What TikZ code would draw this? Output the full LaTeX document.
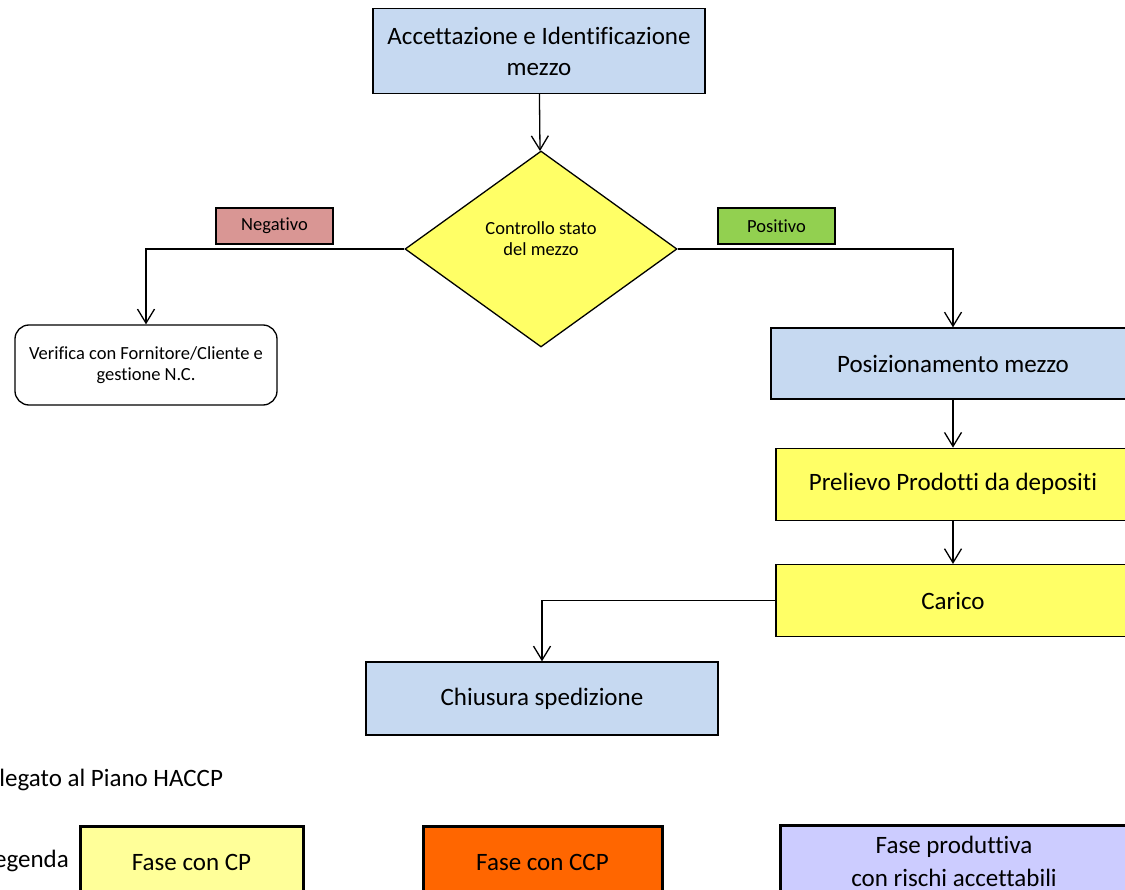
\documentclass[tikz,border=0pt]{standalone}
\usepackage{fontspec}
\setmainfont{Carlito}[Ligatures=NoCommon]
\usetikzlibrary{arrows.meta,positioning,shapes.geometric}
\definecolor{phaseblue}{HTML}{C6D9F1}
\definecolor{phaseyellow}{HTML}{FFFF66}
\definecolor{negred}{HTML}{D99694}
\definecolor{posgreen}{HTML}{92D050}
\definecolor{cpyellow}{HTML}{FFFF99}
\definecolor{ccporange}{HTML}{FF6600}
\definecolor{prodlilac}{HTML}{CCCCFF}
\tikzset{
  bigtext/.style={font=\fontsize{25}{31}\selectfont},
  phase/.style={draw, line width=1.3pt, align=center, fill=phaseblue,
                bigtext, inner sep=0pt, minimum height=71pt},
  decision/.style={draw, line width=1.3pt, diamond, fill=phaseyellow,
                   minimum width=272pt, minimum height=196pt, inner sep=0pt},
  outcome/.style={draw, line width=1.3pt, rounded corners=14pt, fill=white,
                  align=center, font=\fontsize{18.5}{21}\selectfont,
                  minimum width=262pt, minimum height=80pt, inner sep=0pt},
  tag/.style={draw, line width=1.5pt, font=\fontsize{18.5}{21}\selectfont,
              minimum width=117pt, minimum height=36pt, inner sep=0pt},
  legendbox/.style={draw, line width=3pt, align=center,
                    font=\fontsize{25}{33}\selectfont,
                    minimum height=72pt, inner sep=0pt},
  flowarrow/.style={-{Straight Barb[length=14pt,width=17pt]}, line width=1.3pt}
}
\begin{document}
\begin{tikzpicture}[x=1pt,y=-1pt]
  \useasboundingbox (0,0) rectangle (1125,890);
  \node[phase, minimum width=332pt, minimum height=85pt] (acc) at (539,51)
    {Accettazione e Identificazione\\mezzo};
  \node[decision, label={[font=\fontsize{18.5}{21}\selectfont, align=center,
        yshift=10pt]center:{Controllo stato\\del mezzo}}] (chk) at (541,249) {};
  \node[outcome] (ver) at (146,365)
    {Verifica con Fornitore/Cliente e\\gestione N.C.};
  \node[tag, fill=negred] (neg) at (274.5,226) {Negativo};
  \node[tag, fill=posgreen] (posi) at (776.5,226) {Positivo};
  \node[phase, minimum width=364pt] (pos) at (953,363.5) {Posizionamento mezzo};
  \node[phase, fill=phaseyellow, minimum width=354pt, minimum height=72pt,
        below=48pt of pos] (prel) {Prelievo Prodotti da depositi};
  \node[phase, fill=phaseyellow, minimum width=354pt, minimum height=72pt,
        below=43pt of prel] (car) {Carico};
  \node[phase, minimum width=352pt, minimum height=73pt] (chi) at (542,698.5)
    {Chiusura spedizione};
  \draw[flowarrow] (acc) -- (chk);
  \draw[flowarrow] (chk.west) -| (ver.north);
  \draw[flowarrow] (chk.east) -| (pos.north);
  \draw[flowarrow] (pos) -- (prel);
  \draw[flowarrow] (prel) -- (car);
  \draw[flowarrow] (car.west) -| (chi.north);
  \node[bigtext, anchor=west, inner sep=0pt] (alleg) at (-21,780)
    {Allegato al Piano HACCP};
  \node[bigtext, anchor=east, inner sep=0pt] (leg) at (69,861) {Legenda};
  \node[legendbox, fill=cpyellow, minimum width=223pt] (cp) at (191.5,862)
    {Fase con CP};
  \node[legendbox, fill=ccporange, minimum width=239pt] (ccp) at (542.5,862)
    {Fase con CCP};
  \node[legendbox, fill=prodlilac, minimum width=348pt] (prod) at (954,861)
    {Fase produttiva\\con rischi accettabili};
\end{tikzpicture}
\end{document}
